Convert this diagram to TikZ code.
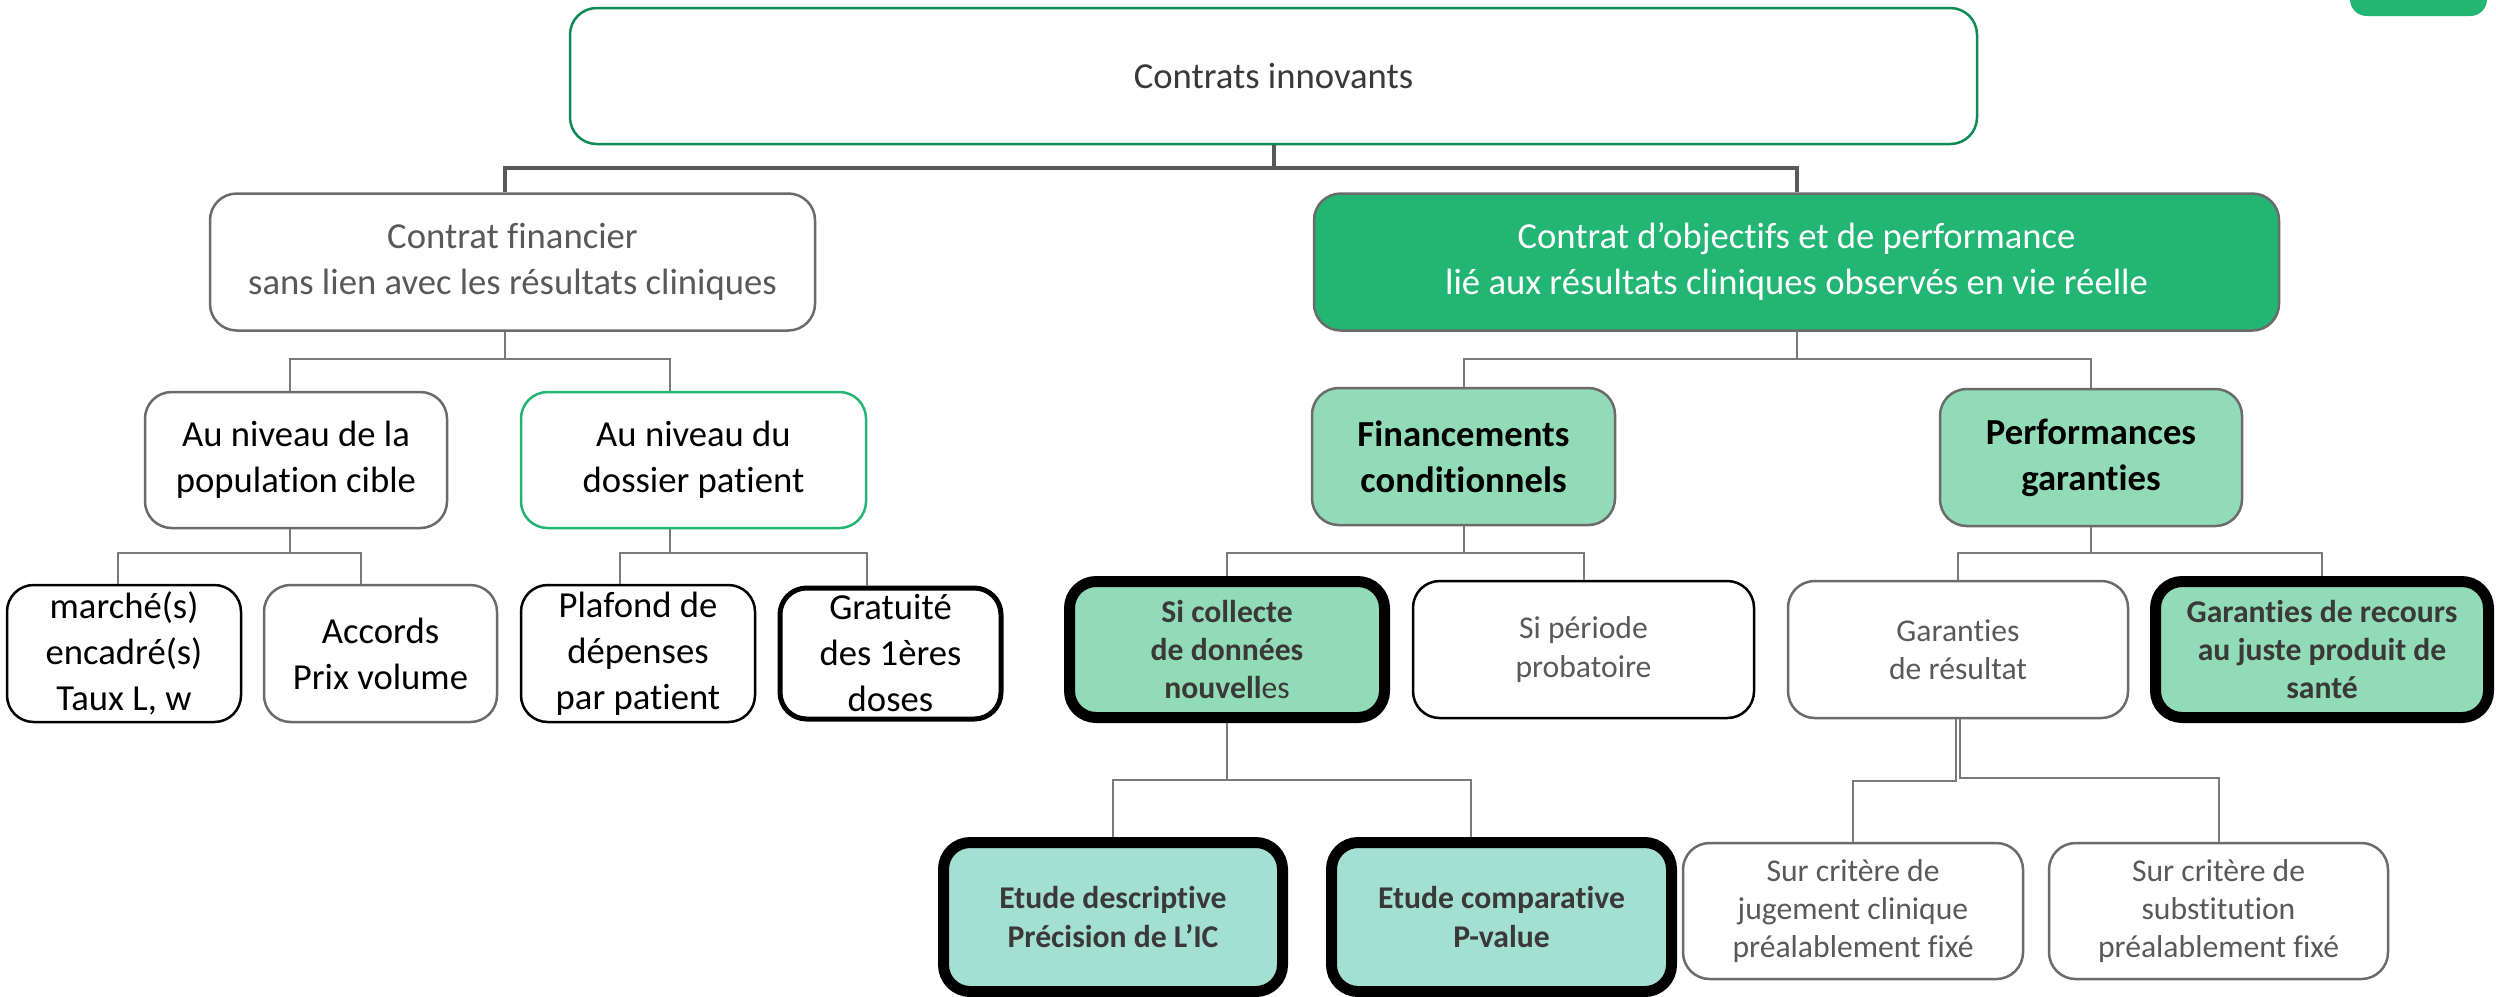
\documentclass[tikz,border=0pt]{standalone}
\usepackage{fontspec}
\setmainfont{Carlito}[Ligatures=NoCommon]
\definecolor{cgreen}{HTML}{22B573}
\definecolor{dgreen}{HTML}{0F8A55}
\definecolor{lgreen}{HTML}{91DBB7}
\definecolor{ctealc}{HTML}{A3E0D2}
\definecolor{bgray}{HTML}{6B6B6B}
\definecolor{tgray}{HTML}{595959}
\definecolor{dtext}{HTML}{3B3838}
\definecolor{lgray}{HTML}{7A7A7A}
\tikzset{
  box/.style={draw=bgray, line width=0.75pt, rounded corners=8pt, align=center, inner sep=0pt, text=black},
  sz/.style n args={2}{minimum width=#1*0.3pt, minimum height=#2*0.3pt},
  big/.style={font=\fontsize{11}{13.8}\selectfont},
  bigb/.style={font=\fontsize{11}{13.8}\selectfont\bfseries},
  small/.style={font=\fontsize{9.5}{11.5}\selectfont},
  smallb/.style={font=\fontsize{9.5}{11.5}\selectfont\bfseries},
  heavy/.style={draw=black, line width=3.3pt},
  conn/.style={draw=lgray, line width=0.6pt},
  tconn/.style={draw=tgray, line width=1.2pt},
}
\begin{document}
\begin{tikzpicture}[x=0.3pt,y=-0.3pt]
\useasboundingbox (0,0) rectangle (2496,996);
% partial shape at top right
\fill[cgreen, rounded corners=5pt] (2350,-40) rectangle (2487,16);

% level 0
\node[box, big, sz={1407}{136}, draw=dgreen, text=dtext] (top) at (1273.5,76) {Contrats innovants};
% level 1
\node[box, big, sz={605}{137}, text=tgray] (fin) at (512.5,262) {Contrat financier\\sans lien avec les résultats cliniques};
\node[box, big, sz={965}{137}, fill=cgreen, text=white] (obj) at (1796.5,262) {Contrat d’objectifs et de performance\\lié aux résultats cliniques observés en vie réelle};
% level 2
\node[box, big, sz={302}{136}] (popu) at (296,460) {Au niveau de la\\population cible};
\node[box, big, sz={345}{136}, draw=cgreen] (doss) at (693.5,460) {Au niveau du\\dossier patient};
\node[box, bigb, sz={303}{137}, fill=lgreen] (finc) at (1463.5,456.5) {Financements\\conditionnels};
\node[box, bigb, sz={302}{137}, fill=lgreen] (perf) at (2091,457.5) {Performances\\garanties};
% level 3
\node[box, big, sz={234}{137}, draw=black] (marche) at (124,653.5) {marché(s)\\encadré(s)\\Taux L, w};
\node[box, big, sz={233}{137}] (accords) at (380.5,653.5) {Accords\\Prix volume};
\node[box, big, sz={234}{137}, draw=black] (plafond) at (638,653.5) {Plafond de\\dépenses\\par patient};
\node[box, big, sz={221}{131}, draw=black, line width=1.5pt] (gratuite) at (890.5,653.5) {Gratuité\\des 1ères\\doses};
\node[box, smallb, sz={315}{136}, fill=lgreen, heavy, text=dtext] (collecte) at (1227,649.5) {Si collecte\\de données\\nouvell\textmd{es}};
\node[box, small, sz={341}{137}, draw=black, text=tgray] (periode) at (1583.5,649.5) {Si période\\probatoire};
\node[box, small, sz={340}{137}, text=tgray] (garres) at (1958,649.5) {Garanties\\de résultat};
\node[box, smallb, sz={333}{136}, fill=lgreen, heavy, text=dtext] (recours) at (2322,649.5) {Garanties de recours\\au juste produit de\\santé};
% level 4
\node[box, smallb, sz={339}{149}, fill=ctealc, heavy, text=dtext] (etdesc) at (1113,917) {Etude descriptive\\Précision de L’IC};
\node[box, smallb, sz={340}{149}, fill=ctealc, heavy, text=dtext] (etcomp) at (1501.5,917) {Etude comparative\\P-value};
\node[box, small, sz={340}{136}, text=tgray] (surjug) at (1853,911) {Sur critère de\\jugement clinique\\préalablement fixé};
\node[box, small, sz={339}{136}, text=tgray] (sursub) at (2218.5,911) {Sur critère de\\substitution\\préalablement fixé};

% connectors
\draw[tconn] (top.south) -- (top.south |- 0,168) -| ([xshift=-2.2pt]fin.north);
\draw[tconn] (top.south |- 0,168) -| (obj.north);

\draw[conn] ([xshift=-2.2pt]fin.south) -- ([xshift=-2.2pt]fin.south |- 0,359) -| ([xshift=-1.8pt]popu.north);
\draw[conn] ([xshift=-2.2pt]fin.south |- 0,359) -| ([xshift=-7pt]doss.north);

\draw[conn] (obj.south) -- (obj.south |- 0,359) -| (finc.north);
\draw[conn] (obj.south |- 0,359) -| (perf.north);

\draw[conn] ([xshift=-1.8pt]popu.south) -- ([xshift=-1.8pt]popu.south |- 0,553) -| ([xshift=-1.8pt]marche.north);
\draw[conn] ([xshift=-1.8pt]popu.south |- 0,553) -| ([xshift=-6pt]accords.north);

\draw[conn] ([xshift=-7pt]doss.south) -- ([xshift=-7pt]doss.south |- 0,553) -| ([xshift=-5.4pt]plafond.north);
\draw[conn] ([xshift=-7pt]doss.south |- 0,553) -| ([xshift=-7.2pt]gratuite.north);

\draw[conn] (finc.south) -- (finc.south |- 0,553) -| (collecte.north);
\draw[conn] (finc.south |- 0,553) -| (periode.north);

\draw[conn] (perf.south) -- (perf.south |- 0,553) -| (garres.north);
\draw[conn] (perf.south |- 0,553) -| (recours.north);

\draw[conn] (collecte.south) -- (collecte.south |- 0,780) -| (etdesc.north);
\draw[conn] (collecte.south |- 0,780) -| ([xshift=-9.3pt]etcomp.north);

\draw[conn] ([xshift=-0.6pt]garres.south) -- ([xshift=-0.6pt]garres.south |- 0,781) -| (surjug.north);
\draw[conn] ([xshift=0.6pt]garres.south) -- ([xshift=0.6pt]garres.south |- 0,778) -| (sursub.north);
\end{tikzpicture}
\end{document}
